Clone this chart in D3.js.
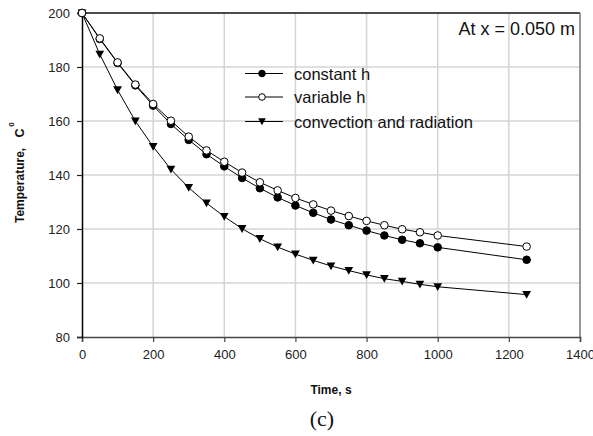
<!DOCTYPE html>
<html lang="en">
<head>
<meta charset="utf-8">
<title>Temperature vs time</title>
<style>
  * { margin: 0; padding: 0; }
  body { background: #fff; }
  svg { display: block; font-family: "Liberation Sans", Arial, sans-serif; }
  .grid line { stroke: #d4d4d4; stroke-width: 1.5; }
  .tick-label { font-size: 13px; fill: #222; }
  .axis-title { font-size: 12px; font-weight: bold; fill: #111; }
  .legend-text { font-size: 16.5px; fill: #111; }
</style>
</head>
<body>
<svg id="chart" width="593" height="436"></svg>
<script src="https://cdn.jsdelivr.net/npm/d3@7"></script>
<script>
const time = [0, 50, 100, 150, 200, 250, 300, 350, 400, 450, 500, 550, 600, 650, 700, 750, 800, 850, 900, 950, 1000, 1250];
const constantH = [200, 190.4, 181.5, 173.2, 165.7, 158.9, 153.0, 147.7, 143.2, 138.9, 135.1, 131.7, 128.7, 126.0, 123.5, 121.4, 119.4, 117.6, 116.0, 114.7, 113.2, 108.6];
const variableH = [200, 190.6, 181.7, 173.5, 166.3, 160.1, 154.2, 149.1, 144.9, 140.9, 137.3, 134.3, 131.5, 129.1, 126.8, 124.8, 123.0, 121.4, 119.9, 118.8, 117.6, 113.5];
const convRad = [200, 184.7, 171.5, 160.0, 150.5, 142.1, 135.3, 129.6, 124.6, 120.1, 116.4, 113.3, 110.7, 108.4, 106.3, 104.6, 103.0, 101.6, 100.6, 99.5, 98.6, 95.7];
const xTicks = [0, 200, 400, 600, 800, 1000, 1200, 1400];
const yTicks = [80, 100, 120, 140, 160, 180, 200];

const series = [
  { name: "constant h", values: constantH, marker: "filled" },
  { name: "variable h", values: variableH, marker: "open" },
  { name: "convection and radiation", values: convRad, marker: "triangle" }
];

const plotL = 82, plotR = 580, plotT = 13, plotB = 337;
const x = d3.scaleLinear().domain([0, 1400]).range([plotL, plotR]);
const y = d3.scaleLinear().domain([80, 200]).range([plotB, plotT]);

const svg = d3.select("#chart");

// grid
const grid = svg.append("g").attr("class", "grid");
grid.selectAll("line.v").data(xTicks.slice(1, -1)).join("line")
  .attr("x1", d => x(d)).attr("x2", d => x(d)).attr("y1", plotT).attr("y2", plotB);
grid.selectAll("line.h").data(yTicks.slice(1, -1)).join("line")
  .attr("x1", plotL).attr("x2", plotR).attr("y1", d => y(d)).attr("y2", d => y(d));

// frame
svg.append("line").attr("x1", plotL).attr("x2", plotR).attr("y1", plotT).attr("y2", plotT)
  .attr("stroke", "#111").attr("stroke-width", 1.5);
svg.append("line").attr("x1", plotR).attr("x2", plotR).attr("y1", plotT).attr("y2", plotB)
  .attr("stroke", "#777").attr("stroke-width", 1.5);

// axes
const xAxis = d3.axisBottom(x).tickValues(xTicks).tickSize(5).tickFormat(d3.format("d"));
const yAxis = d3.axisLeft(y).tickValues(yTicks).tickSize(5).tickFormat(d3.format("d"));

const gx = svg.append("g").attr("transform", `translate(0,${plotB})`).call(xAxis);
gx.select(".domain").attr("stroke", "#444").attr("stroke-width", 1.5);
gx.selectAll(".tick line").attr("stroke", "#444").attr("stroke-width", 1.2);
gx.selectAll(".tick text").attr("class", "tick-label").attr("font-family", null).attr("font-size", null)
  .attr("y", 22).attr("dy", null).attr("fill", null);

const gy = svg.append("g").attr("transform", `translate(${plotL},0)`).call(yAxis);
gy.select(".domain").attr("stroke", "#000").attr("stroke-width", 1.5);
gy.selectAll(".tick line").attr("stroke", "#222").attr("stroke-width", 1.2);
gy.selectAll(".tick text").attr("class", "tick-label").attr("font-family", null).attr("font-size", null)
  .attr("x", -12).attr("dy", "0.36em").attr("fill", null);

// markers
function drawMarker(sel, type, r) {
  if (type === "triangle") {
    sel.append("path")
      .attr("d", `M${-r * 1.15},${-r * 0.95}L${r * 1.15},${-r * 0.95}L0,${r * 1.1}Z`)
      .attr("fill", "#000");
  } else {
    sel.append("circle").attr("r", r)
      .attr("fill", type === "filled" ? "#000" : "#fff")
      .attr("stroke", "#000").attr("stroke-width", 1);
  }
}

const line = d3.line().x((d, i) => x(time[i])).y(d => y(d));

// draw constant h first, variable h on top, then triangles
[series[2], series[0], series[1]].forEach(s => {
  const g = svg.append("g");
  g.append("path").datum(s.values).attr("d", line)
    .attr("fill", "none").attr("stroke", "#000").attr("stroke-width", 1);
  g.selectAll("g.pt").data(s.values).join("g")
    .attr("transform", (d, i) => `translate(${x(time[i])},${y(d)})`)
    .each(function () { drawMarker(d3.select(this), s.marker, 3.8); });
});

// legend
const legendRows = [73.5, 97, 121.5];
series.forEach((s, i) => {
  const g = svg.append("g").attr("transform", `translate(0,${legendRows[i]})`);
  g.append("line").attr("x1", 245).attr("x2", 283).attr("y1", 0).attr("y2", 0)
    .attr("stroke", "#000").attr("stroke-width", 1);
  const m = g.append("g").attr("transform", "translate(262,0)");
  drawMarker(m, s.marker, 3.3);
  g.append("text").attr("class", "legend-text").attr("x", 294).attr("y", 6.3).text(s.name);
});

// annotation
svg.append("text").attr("x", 575).attr("y", 35).attr("text-anchor", "end")
  .attr("font-size", 18).attr("fill", "#111").text("At x = 0.050 m");

// axis titles
svg.append("text").attr("class", "axis-title").attr("x", (plotL + plotR) / 2).attr("y", 394)
  .attr("text-anchor", "middle").attr("font-size", 12.5).text("Time, s");

const yt = svg.append("text").attr("class", "axis-title")
  .attr("transform", "translate(23.5,223) rotate(-90)");
yt.append("tspan").text("Temperature,");
yt.append("tspan").attr("dx", 21).attr("dy", -9.5).attr("font-size", 8).text("0");
yt.append("tspan").attr("dx", -15).attr("dy", 9.5).attr("font-size", 12.5).text("C");

// panel label
svg.append("text").attr("x", 322).attr("y", 426).attr("text-anchor", "middle")
  .attr("font-family", "'Liberation Serif', 'Times New Roman', serif")
  .attr("font-size", 22).attr("fill", "#111").text("(c)");
</script>
</body>
</html>
